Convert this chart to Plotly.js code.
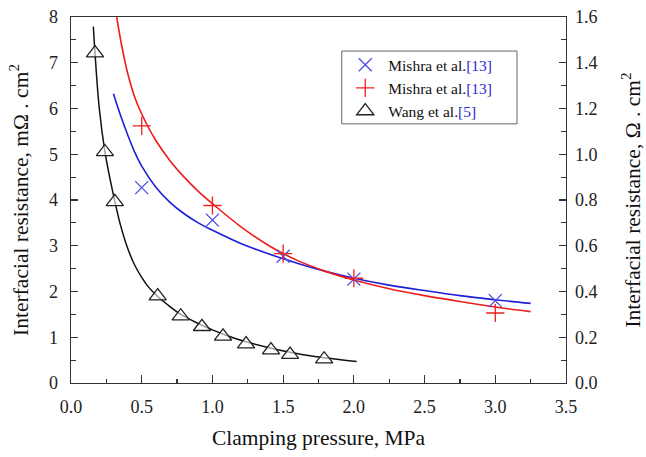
<!DOCTYPE html>
<html>
<head>
<meta charset="utf-8">
<script src="https://cdn.plot.ly/plotly-3.0.1.min.js"></script>
<style>html,body{margin:0;padding:0;background:#fff;}#chart{width:646px;height:457px;}</style>
</head>
<body>
<div id="chart"></div>
<script>
// Measured points
const mishraX_p = [0.5, 1.0, 1.5, 2.0, 3.0];
const mishraX_r = [4.27, 3.56, 2.77, 2.27, 1.80];
const mishraP_p = [0.5, 1.0, 1.5, 2.0, 3.0];
const mishraP_r = [5.62, 3.88, 2.83, 2.29, 1.53];
const wang_p = [0.17, 0.24, 0.31, 0.613, 0.776, 0.926, 1.075, 1.238, 1.414, 1.549, 1.79];
const wang_r = [7.21, 5.05, 3.96, 1.90, 1.46, 1.23, 1.02, 0.85, 0.72, 0.62, 0.52];
// Fitted curves
const blueFit_p = [0.30, 0.35, 0.40, 0.45, 0.5, 0.6, 0.7, 0.8, 0.9, 1.0, 1.2, 1.4, 1.6, 1.8, 2.0, 2.25, 2.5, 2.75, 3.0, 3.25];
const blueFit_r = [6.32, 5.85, 5.43, 5.05, 4.74, 4.28, 3.95, 3.70, 3.50, 3.34, 3.05, 2.82, 2.62, 2.44, 2.29, 2.14, 2.02, 1.91, 1.82, 1.74];
const redFit_p = [0.323, 0.36, 0.40, 0.45, 0.5, 0.6, 0.7, 0.8, 0.9, 1.0, 1.2, 1.4, 1.6, 1.8, 2.0, 2.25, 2.5, 2.75, 3.0, 3.25];
const redFit_r = [8.0, 7.35, 6.78, 6.25, 5.88, 5.30, 4.86, 4.50, 4.19, 3.92, 3.42, 3.00, 2.68, 2.44, 2.25, 2.06, 1.91, 1.78, 1.66, 1.56];
const wangFit_p = [0.158, 0.17, 0.2, 0.24, 0.28, 0.31, 0.35, 0.4, 0.45, 0.5, 0.55, 0.613, 0.7, 0.776, 0.9, 1.0, 1.1, 1.238, 1.4, 1.549, 1.7, 1.85, 2.02];
const wangFit_r = [7.79, 7.2, 6.0, 5.05, 4.40, 3.97, 3.45, 2.95, 2.58, 2.31, 2.09, 1.89, 1.67, 1.50, 1.30, 1.16, 1.04, 0.90, 0.77, 0.67, 0.59, 0.53, 0.47];

const xTickVals = [0, 0.5, 1.0, 1.5, 2.0, 2.5, 3.0, 3.5];
const yTickVals = [0, 1, 2, 3, 4, 5, 6, 7, 8];
const y2TickVals = [0.0, 0.2, 0.4, 0.6, 0.8, 1.0, 1.2, 1.4, 1.6];

const legendNames = [
  'Mishra et al.<span style="color:#2a2ad0">[13]</span>',
  'Mishra et al.<span style="color:#2a2ad0">[13]</span>',
  'Wang et al.<span style="color:#2a2ad0">[5]</span>'
];

const traces = [
  {x: blueFit_p, y: blueFit_r, mode: 'lines', line: {color: '#1e1ed8', width: 1.6, shape: 'spline', smoothing: 1}, showlegend: false, hoverinfo: 'skip'},
  {x: redFit_p, y: redFit_r, mode: 'lines', line: {color: '#ee1c1c', width: 1.6, shape: 'spline', smoothing: 1}, showlegend: false, hoverinfo: 'skip'},
  {x: wangFit_p, y: wangFit_r, mode: 'lines', line: {color: '#111111', width: 1.5, shape: 'spline', smoothing: 1}, showlegend: false, hoverinfo: 'skip'},
  {x: mishraX_p, y: mishraX_r, mode: 'markers', name: legendNames[0],
   marker: {symbol: 'x-thin-open', size: 13, line: {color: '#4b4be6', width: 1.3}, color: '#4b4be6'}},
  {x: mishraP_p, y: mishraP_r, mode: 'markers', name: legendNames[1],
   marker: {symbol: 'cross-thin-open', size: 13, line: {color: '#ee2020', width: 1.3}, color: '#ee2020'}},
  {x: wang_p, y: wang_r, mode: 'markers', name: legendNames[2],
   marker: {symbol: 'triangle-up', size: 15, color: 'rgba(255,255,255,0.6)', line: {color: '#222', width: 1.3}}},
  {x: [0], y: [0], yaxis: 'y2', mode: 'markers', marker: {opacity: 0}, showlegend: false, hoverinfo: 'skip'}
];

const axisFont = {family: '"Liberation Serif", "Times New Roman", serif', size: 18, color: '#222'};
const titleFont = {family: '"Liberation Serif", "Times New Roman", serif', size: 21.5, color: '#111'};

const layout = {
  width: 646, height: 457,
  margin: {l: 71, r: 80, t: 17, b: 74},
  paper_bgcolor: '#fff', plot_bgcolor: '#fff',
  showlegend: true,
  legend: {
    x: 0.548, y: 0.915, xanchor: 'left', yanchor: 'top',
    bgcolor: 'rgba(0,0,0,0)', borderwidth: 0,
    font: {family: '"Liberation Serif", "Times New Roman", serif', size: 15.5, color: '#111'},
    itemwidth: 36
  },
  shapes: [
    {type: 'rect', xref: 'paper', yref: 'paper', x0: 0.547, x1: 0.901, y0: 0.708, y1: 0.907,
     line: {color: '#666', width: 1}, fillcolor: '#fff', layer: 'below'}
  ],
  xaxis: {
    range: [0, 3.5], tickvals: xTickVals, ticktext: xTickVals.map(v => v.toFixed(1)),
    ticks: 'inside', ticklen: 8, tickcolor: '#333', tickwidth: 1.2, ticklabelstandoff: 7,
    minor: {dtick: 0.25, ticks: 'inside', ticklen: 4, tickcolor: '#333', tickwidth: 1.2},
    showline: true, linecolor: '#333', linewidth: 1.3, mirror: true,
    showgrid: false, zeroline: false, tickfont: axisFont,
    title: {text: 'Clamping pressure, MPa', font: titleFont, standoff: 14}
  },
  yaxis: {
    range: [0, 8], tickvals: yTickVals,
    ticks: 'inside', ticklen: 7, tickcolor: '#333', tickwidth: 1.2, ticklabelstandoff: 8,
    minor: {dtick: 0.5, ticks: 'inside', ticklen: 5, tickcolor: '#333', tickwidth: 1.2},
    showline: true, linecolor: '#333', linewidth: 1.3,
    showgrid: false, zeroline: false, tickfont: axisFont,
    title: {text: 'Interfacial resistance, mΩ . cm<sup>2</sup>', font: titleFont, standoff: 14}
  },
  yaxis2: {
    overlaying: 'y', side: 'right', range: [0, 1.6], tickvals: y2TickVals,
    ticktext: y2TickVals.map(v => v.toFixed(1)),
    ticks: 'inside', ticklen: 7, tickcolor: '#333', tickwidth: 1.2, ticklabelstandoff: 4,
    minor: {dtick: 0.1, ticks: 'inside', ticklen: 5, tickcolor: '#333', tickwidth: 1.2},
    showline: true, linecolor: '#333', linewidth: 1.3,
    showgrid: false, zeroline: false, tickfont: axisFont,
    title: {text: 'Interfacial resistance, Ω . cm<sup>2</sup>', font: titleFont, standoff: 28}
  }
};

Plotly.newPlot('chart', traces, layout, {staticPlot: true, displayModeBar: false});
</script>
</body>
</html>
